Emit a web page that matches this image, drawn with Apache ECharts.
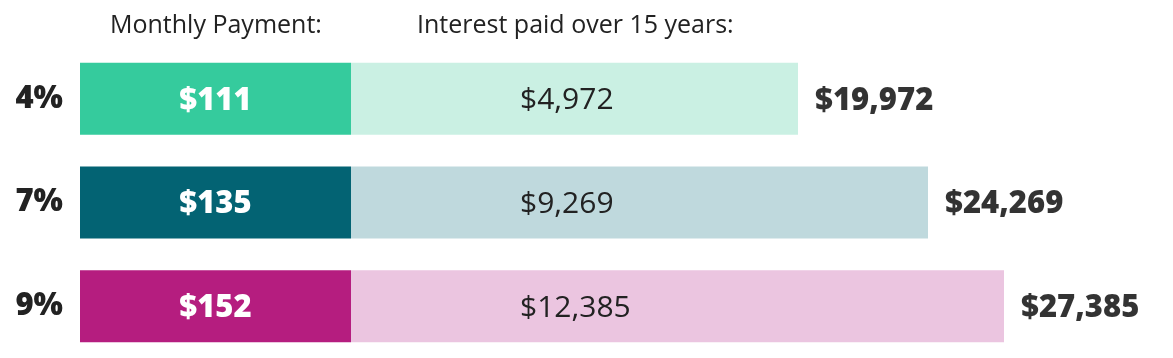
<!DOCTYPE html>
<html>
<head>
<meta charset="utf-8">
<script src="https://cdn.jsdelivr.net/npm/echarts@6/dist/echarts.min.js"></script>
<style>
html,body{margin:0;padding:0;background:#fff;}
#chart{width:1173px;height:358px;}
</style>
</head>
<body>
<div id="chart"></div>
<script>
// Data
const rates = ['4%', '7%', '9%'];
const monthlyPayment = [111, 135, 152];
const interestPaid = [4972, 9269, 12385];
const totalPaid = [19972, 24269, 27385];
// Bar segment lengths as drawn in the reference (illustrative, not to dollar scale)
const paymentBar = [271, 271, 271];
const interestBar = [447, 577, 653];

const darkColors = ['#35CB9D', '#036373', '#B51D7F'];
const lightColors = ['#CAF0E3', '#BFD9DD', '#EBC5E0'];

const fmt = v => '$' + v.toLocaleString('en-US');
const FONT = "'Open Sans', sans-serif";

const chart = echarts.init(document.getElementById('chart'), null, {renderer: 'canvas'});
chart.setOption({
  animation: false,
  backgroundColor: '#ffffff',
  grid: {left: 80, right: 0, top: 47, height: 312, containLabel: false},
  xAxis: {
    type: 'value', min: 0, max: 1093, show: false
  },
  yAxis: {
    type: 'category', data: rates, inverse: true,
    axisLine: {show: false}, axisTick: {show: false},
    axisLabel: {margin: 17, fontSize: 31, fontWeight: 800, color: '#222', fontFamily: FONT, padding: [5, 0, 0, 0]}
  },
  graphic: [
    {type: 'text', left: 110, top: 13, style: {text: 'Monthly Payment:', fontSize: 25, fontFamily: FONT, fill: '#222'}},
    {type: 'text', left: 417, top: 13, style: {text: 'Interest paid over 15 years:', fontSize: 25, fontFamily: FONT, fill: '#222'}}
  ],
  series: [
    {
      type: 'bar', stack: 'loan', barWidth: 72,
      data: paymentBar.map((v, i) => ({value: v, itemStyle: {color: darkColors[i]}})),
      label: {
        show: true, position: 'inside', color: '#fff', fontSize: 31, fontWeight: 800, fontFamily: FONT,
        offset: [0, 2],
        formatter: p => fmt(monthlyPayment[p.dataIndex])
      }
    },
    {
      type: 'bar', stack: 'loan', barWidth: 72,
      data: interestBar.map((v, i) => ({value: v, itemStyle: {color: lightColors[i]}})),
      label: {
        show: true, position: [169, '50%'], align: 'left', verticalAlign: 'middle',
        color: '#222', fontSize: 30, fontFamily: FONT, offset: [0, 2],
        formatter: p => fmt(interestPaid[p.dataIndex])
      }
    },
    {
      type: 'scatter', symbolSize: 0, silent: true,
      data: rates.map((r, i) => [paymentBar[i] + interestBar[i], r]),
      label: {
        show: true, position: 'right', distance: 17, color: '#000', fontSize: 31, fontWeight: 800, fontFamily: FONT,
        offset: [0, 2],
        formatter: p => fmt(totalPaid[p.dataIndex])
      }
    }
  ]
});
</script>
</body>
</html>
